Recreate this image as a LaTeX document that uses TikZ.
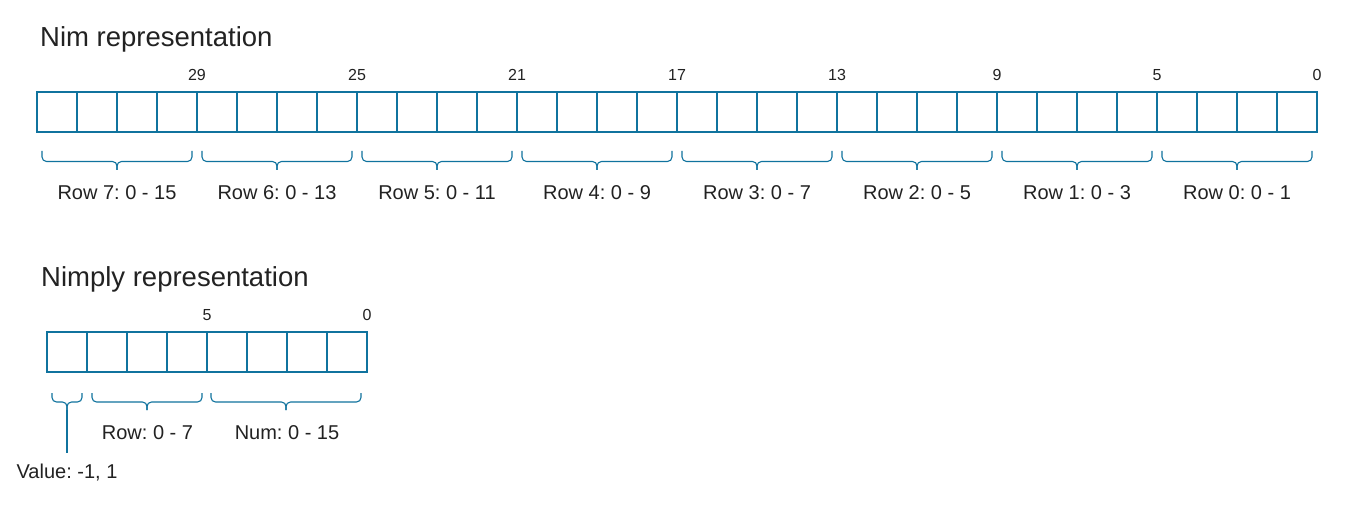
\documentclass[tikz,border=0pt]{standalone}
\usepackage{fontspec}
\setmainfont{Liberation Sans}
\frenchspacing
\definecolor{dblue}{HTML}{10739E}
\definecolor{txt}{HTML}{222222}
\tikzset{
  cell/.style={draw=dblue, line width=1.1pt, minimum width=40pt, minimum height=40pt, inner sep=0pt, outer sep=0pt, anchor=north west},
  bitnum/.style={font=\fontsize{16}{18}\selectfont, text=txt, inner sep=0pt, anchor=base},
  lbl/.style={font=\fontsize{20}{22}\selectfont, text=txt, inner sep=0pt, anchor=base},
  ttl/.style={font=\fontsize{27.5}{30}\selectfont, text=txt, inner sep=0pt, anchor=base west},
  brc/.style={draw=dblue, line width=1.1pt, rounded corners=4.5pt},
}
\begin{document}
\begin{tikzpicture}[x=1pt, y=-1pt]
\fill[white] (0,0) rectangle (1345,508);
\useasboundingbox (0,0) rectangle (1345,508);

% titles
\node[ttl] (t1) at (40,46.7) {Nim representation};
\node[ttl] (t2) at (41,286) {Nimply representation};

% top array
\foreach \i in {0,...,31} {
  \node[cell] (t\i) at ({37+40*\i},92) {};
}
% bit numbers
\foreach \b/\x in {29/197,25/357,21/517,17/677,13/837,9/997,5/1157,0/1317} {
  \node[bitnum] (n\b) at (\x,80.5) {\b};
}
% braces and labels
\foreach \g/\r/\m in {0/7/15,1/6/13,2/5/11,3/4/9,4/3/7,5/2/5,6/1/3,7/0/1} {
  \coordinate (bl\g) at ({42+160*\g},151);
  \coordinate (br\g) at ({192+160*\g},151);
  \coordinate (bm\g) at ({117+160*\g},170);
  \draw[brc] (bl\g) -- ++(0,10.5) -| (bm\g);
  \draw[brc] (br\g) -- ++(0,10.5) -| (bm\g);
  \node[lbl] (r\g) at ({117+160*\g},199.5) {Row \r: 0 - \m};
}

% lower array
\foreach \i in {0,...,7} {
  \node[cell] (b\i) at ({47+40*\i},332) {};
}
\node[bitnum] (m5) at (207,320) {5};
\node[bitnum] (m0) at (367,320) {0};

% lower braces
\foreach \n/\a/\b/\c in {v/52/82/67,r/92/202/147,n/211/361/286} {
  \coordinate (l\n) at (\a,393);
  \coordinate (rr\n) at (\b,393);
  \coordinate (tip\n) at (\c,410);
  \draw[brc] (l\n) -- ++(0,9) -| (tip\n);
  \draw[brc] (rr\n) -- ++(0,9) -| (tip\n);
}
\node[lbl] (rowl) at (147.5,439.3) {Row: 0 - 7};
\node[lbl] (numl) at (287,439.3) {Num: 0 - 15};
\node[lbl] (vall) at (67,478) {Value: -1, 1};
\draw[draw=dblue, line width=1.1pt, shorten >=10pt] (tipv) -- (vall.north);
\end{tikzpicture}
\end{document}
